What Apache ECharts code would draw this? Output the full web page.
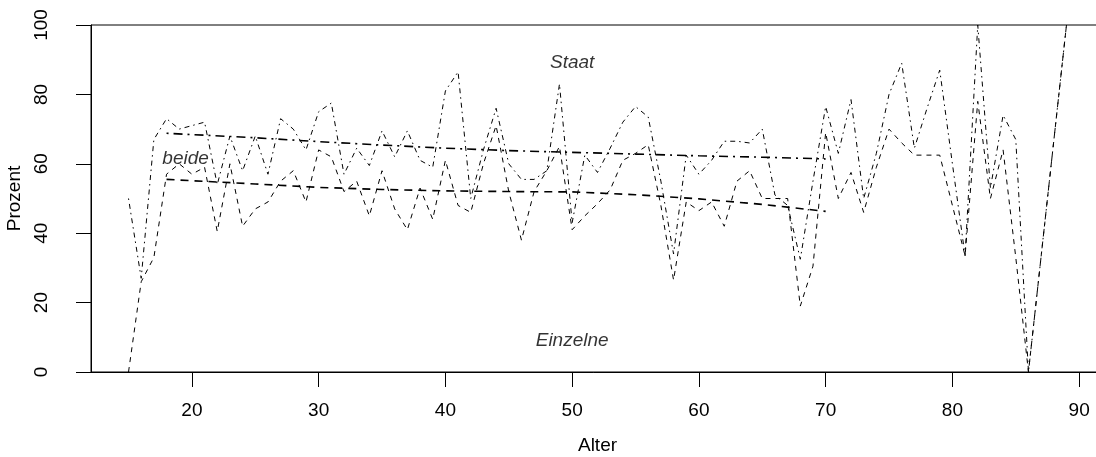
<!DOCTYPE html>
<html>
<head>
<meta charset="utf-8">
<script src="https://cdn.jsdelivr.net/npm/echarts@6/dist/echarts.min.js"></script>
<style>
html,body{margin:0;padding:0;background:#fff;overflow:hidden;}
#c{width:1096px;height:457px;}
</style>
</head>
<body>
<div id="c"></div>
<script>
// Ages (87 and 88 absent)
const ages = [15,16,17,18,19,20,21,22,23,24,25,26,27,28,29,30,31,32,33,34,35,36,37,38,39,40,
  41,42,43,44,45,46,47,48,49,50,51,52,53,54,55,56,57,58,59,60,61,62,63,64,65,66,67,68,69,70,
  71,72,73,74,75,76,77,78,79,80,81,82,83,84,85,86,89];
// dashed line: percent "Einzelne"
const pctEinzelne = [0,26,33,57,60,57,59,40.5,60,42,47,49,55,58,49,64,62,52,55,45,58,47,41,53,44,61,
  48,46,60,71,52,38,52,58,65,41,45,48.5,52.5,61,63,65.5,48,26.5,49,46.5,49,42,55,58,50,50,50,19,30.5,69,
  50,57.5,46,59,70,66,62.5,62.5,62.5,48,33.5,78,50,64,33,0,100];
// dot-dash line: percent "Einzelne" + "beide"
const pctEinzelneBeide = [50,27,67,73,70,71,72,54,68,58,68,57,73,70,64,75,77.5,57,64.5,59.5,69.5,62,69.5,61,59,81,
  86.5,50,64,76,60,55.5,55.5,58,83,43,62.5,57.5,64.5,72,76.5,73.5,55,34,62.5,57,61,66.5,66.5,66,70,51,48,32.5,55,76.5,
  63,78.5,50,63,80,89,64.5,76,87,60,33.5,100,53,74,67,0,100];
// smoothed curves
const smoothAges = [18,25,30,35,40,45,50,55,60,65,70];
const smoothEinzelne = [55.5,54.2,53.2,52.6,52.2,52.0,51.9,51.1,49.9,48.3,46.3];
const smoothEinzelneBeide = [68.8,67.5,66.4,65.4,64.5,63.8,63.3,62.8,62.3,61.9,61.4];
// region labels
const regionLabels = [
  {name:'Staat', x:50, y:89},
  {name:'beide', x:19.5, y:61.5},
  {name:'Einzelne', x:50, y:9}
];
const xTicks = [20,30,40,50,60,70,80,90];

const FONT = 'Liberation Sans, Arial, Helvetica, sans-serif';
const FS = 19;

const chart = echarts.init(document.getElementById('c'), null, {renderer:'canvas'});
const pairs = (xs, ys) => xs.map((x,i)=>[x, ys[i]]);

chart.setOption({
  animation:false,
  backgroundColor:'#fff',
  grid:{left:91, top:25, width:1013, height:347, outerBoundsMode:'none', containLabel:false,
        show:true, borderColor:'#000', borderWidth:1, backgroundColor:'transparent'},
  xAxis:{
    type:'value', min:12.04, max:91.96,
    name:'Alter', nameLocation:'middle', nameGap:64,
    nameTextStyle:{fontFamily:FONT, fontSize:FS, color:'#000'},
    axisLine:{show:true, onZero:false, lineStyle:{color:'#000', width:1}},
    axisTick:{show:true, length:15, customValues:xTicks, lineStyle:{color:'#000', width:1}},
    axisLabel:{show:true, customValues:xTicks, margin:29, fontFamily:FONT, fontSize:FS, color:'#000'},
    splitLine:{show:false}
  },
  yAxis:{
    type:'value', min:0, max:100, interval:20,
    name:'Prozent', nameLocation:'middle', nameGap:60, nameRotate:90,
    nameTextStyle:{fontFamily:FONT, fontSize:FS, color:'#000'},
    axisLine:{show:true, lineStyle:{color:'#000', width:1}},
    axisTick:{show:true, length:15, lineStyle:{color:'#000', width:1}},
    axisLabel:{show:true, rotate:90, margin:40, fontFamily:FONT, fontSize:FS, color:'#000'},
    splitLine:{show:false}
  },
  series:[
    {type:'line', data:pairs(ages,pctEinzelne), symbol:'none', silent:true,
     lineStyle:{color:'#000', width:1, type:[5,5]}},
    {type:'line', data:pairs(ages,pctEinzelneBeide), symbol:'none', silent:true,
     lineStyle:{color:'#000', width:1, type:[1.5,4,5,4]}},
    {type:'line', data:pairs(smoothAges,smoothEinzelne), symbol:'none', silent:true,
     lineStyle:{color:'#000', width:1.6, type:[8,6]}},
    {type:'line', data:pairs(smoothAges,smoothEinzelneBeide), symbol:'none', silent:true,
     lineStyle:{color:'#000', width:1.6, type:[2,5,9,5]}},
    {type:'scatter', symbolSize:0, silent:true,
     data:regionLabels.map(d=>({name:d.name, value:[d.x,d.y]})),
     label:{show:true, position:'inside', formatter:p=>p.name, fontFamily:FONT, fontSize:FS, fontStyle:'italic', color:'#000'}}
  ]
});
</script>
</body>
</html>
